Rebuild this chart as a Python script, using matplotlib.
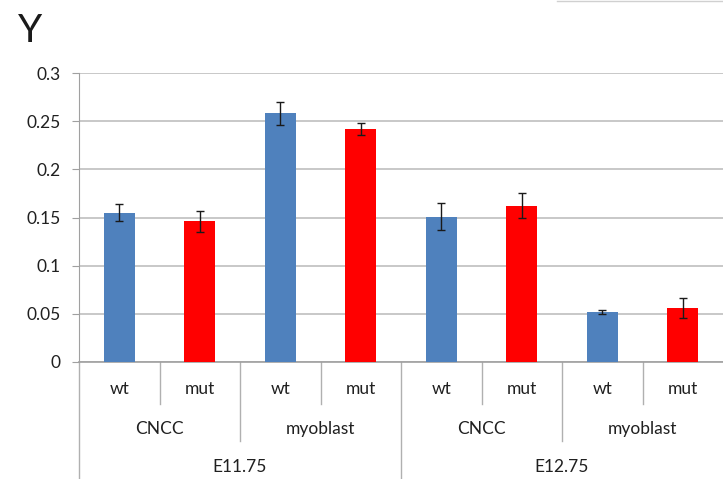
import matplotlib.pyplot as plt
import matplotlib.transforms as mtransforms
from matplotlib.lines import Line2D

# data
stages = ['E11.75', 'E12.75']
cell_types = ['CNCC', 'myoblast', 'CNCC', 'myoblast']
genotypes = ['wt', 'mut', 'wt', 'mut', 'wt', 'mut', 'wt', 'mut']
values = [0.155, 0.146, 0.258, 0.242, 0.151, 0.162, 0.052, 0.056]
errors = [0.009, 0.011, 0.012, 0.006, 0.014, 0.013, 0.002, 0.010]
colors = ['#4F81BD', '#FF0000'] * 4

plt.rcParams['font.family'] = ['Lato', 'DejaVu Sans']

fig = plt.figure(figsize=(7.23, 4.79), dpi=100)
ax = fig.add_axes([79 / 723, 1 - 362 / 479, 1 - 79 / 723, (362 - 73) / 479])

x = list(range(len(values)))
ax.bar(x, values, width=0.39, color=colors, zorder=3)
ax.errorbar(x, values, yerr=errors, fmt='none', ecolor='#1a1a1a',
            elinewidth=1, capsize=3, capthick=1, zorder=4)

ax.set_xlim(-0.5, 7.5)
ax.set_ylim(0, 0.3)
ax.set_yticks([0, 0.05, 0.1, 0.15, 0.2, 0.25, 0.3])
ax.set_yticklabels(['0', '0.05', '0.1', '0.15', '0.2', '0.25', '0.3'])
ax.yaxis.grid(True, color='#BFBFBF', linewidth=1.2, zorder=0)
ax.set_axisbelow(True)
ax.tick_params(axis='y', length=5, color='#A0A0A0', labelsize=12.5,
               labelcolor='#202020', pad=8)
ax.set_xticks([])
for s in ['top', 'right']:
    ax.spines[s].set_visible(False)
ax.spines['left'].set_color('#A0A0A0')
ax.spines['bottom'].set_color('#A0A0A0')
ax.spines['bottom'].set_linewidth(1.2)

# multi level category axis below the plot
tr = mtransforms.blended_transform_factory(ax.transData, fig.transFigure)
def fy(py):
    return 1 - py / 479

sep_col = '#B0B0B0'
for xs in [0.5, 2.5, 4.5, 6.5]:
    ax.add_line(Line2D([xs, xs], [fy(362), fy(404)], transform=tr,
                       color=sep_col, lw=1, clip_on=False))
for xs in [1.5, 5.5]:
    ax.add_line(Line2D([xs, xs], [fy(362), fy(441)], transform=tr,
                       color=sep_col, lw=1, clip_on=False))
for xs in [-0.5, 3.5]:
    ax.add_line(Line2D([xs, xs], [fy(362), fy(479)], transform=tr,
                       color=sep_col, lw=1, clip_on=False))

for i, g in enumerate(genotypes):
    ax.text(i, fy(389), g, transform=tr, ha='center', va='center',
            fontsize=12.5, color='#202020')
for i, c in enumerate(cell_types):
    ax.text(2 * i + 0.5, fy(429), c, transform=tr, ha='center', va='center',
            fontsize=12.5, color='#202020')
for i, s in enumerate(stages):
    ax.text(4 * i + 1.5, fy(467), s, transform=tr, ha='center', va='center',
            fontsize=12.5, color='#202020')

fig.text(18 / 723, fy(31), 'Y', fontsize=28, ha='left', va='center',
         color='#1a1a1a')
fig.add_artist(Line2D([557 / 723, 1], [fy(0.5), fy(0.5)],
                      color='#D0D0D0', lw=1))

fig.savefig('out.png', dpi=100)
